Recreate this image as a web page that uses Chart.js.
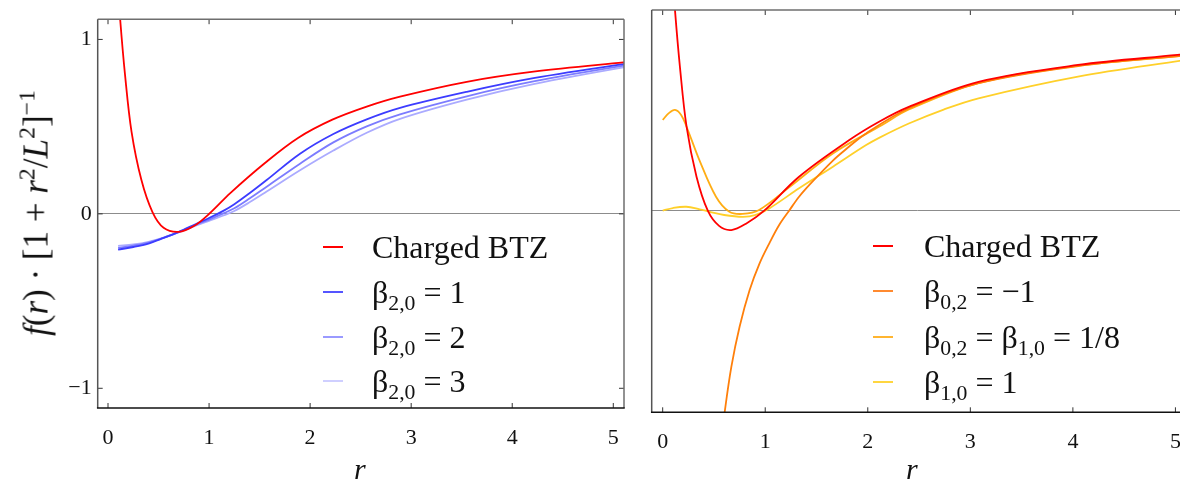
<!DOCTYPE html>
<html>
<head>
<meta charset="utf-8">
<script src="https://cdn.jsdelivr.net/npm/chart.js@4.4.1/dist/chart.umd.min.js"></script>
<style>
  html, body { margin: 0; padding: 0; overflow: hidden; background: #fff; }
  body { width: 1180px; height: 480px; position: relative; font-family: 'Liberation Serif', 'DejaVu Serif', serif; color: #111; }
  .panel { position: absolute; top: 0; height: 480px; }
  #leftPanel { left: 0; width: 640px; }
  #rightPanel { left: 640px; width: 550px; }
  .title { position: absolute; white-space: nowrap; font-size: 30px; line-height: 1; }
  .ytitle { left: 36px; top: 213px; font-size: 35px; transform: translate(-50%, -50%) rotate(-90deg); }
  .title sup { font-size: 0.68em; vertical-align: 0.55em; line-height: 0; }
  .leg { position: absolute; height: 40px; white-space: nowrap; font-size: 32px; }
  .leg .sw { position: absolute; height: 2px; width: 20px; top: 19px; }
  .leg .tx { position: absolute; top: 0; line-height: 40px; }
  .leg sub { font-size: 0.68em; vertical-align: -0.3em; line-height: 0; }
</style>
</head>
<body>
<div class="panel" id="leftPanel"><canvas id="leftChart" width="640" height="480"></canvas></div>
<div class="panel" id="rightPanel"><canvas id="rightChart" width="550" height="480"></canvas></div>

<div class="title ytitle"><i>f</i>(<i>r</i>) · [1 + <i>r</i><sup>2</sup>/<i>L</i><sup>2</sup>]<sup>−1</sup></div>
<div class="title" style="left:354px;top:454px;"><i>r</i></div>
<div class="title" style="left:906px;top:454px;"><i>r</i></div>

<div id="legends"></div>

<script>
// axis ticks
const xTicks = [0, 1, 2, 3, 4, 5];
const yTicksLeft = [-1, 0, 1];
const yTicksRight = [0];

// left panel: charged BTZ
const rBTZ = [0.1, 0.12, 0.168, 0.233, 0.33, 0.44, 0.55, 0.7, 0.85, 1.01, 1.21, 1.55, 1.88, 2.22, 2.56, 2.89, 3.55, 4.21, 5.1, 5.2];
const fBTZ = [1.3, 1.117, 0.8, 0.47, 0.195, 0.01, -0.08, -0.103, -0.07, 0.005, 0.119, 0.29, 0.435, 0.54, 0.615, 0.672, 0.757, 0.815, 0.868, 0.872];

// left panel: beta_{2,0} curves
const rBeta20 = [0.1, 0.25, 0.4, 0.55, 0.7, 0.88, 1.0, 1.15, 1.25, 1.4, 1.57, 1.9, 2.23, 2.56, 2.89, 3.55, 4.21, 5.1, 5.2];
const fBeta20_1 = [-0.205, -0.19, -0.17, -0.138, -0.103, -0.055, -0.024, 0.02, 0.055, 0.118, 0.194, 0.345, 0.458, 0.542, 0.608, 0.70, 0.778, 0.859, 0.863];
const fBeta20_2 = [-0.195, -0.182, -0.165, -0.138, -0.105, -0.06, -0.033, 0.005, 0.032, 0.088, 0.156, 0.288, 0.41, 0.502, 0.571, 0.674, 0.759, 0.849, 0.853];
const fBeta20_3 = [-0.183, -0.175, -0.16, -0.136, -0.105, -0.065, -0.04, -0.008, 0.016, 0.066, 0.128, 0.25, 0.363, 0.465, 0.545, 0.655, 0.744, 0.84, 0.844];

// right panel: charged BTZ
const rBTZ2 = [0.1, 0.12, 0.168, 0.233, 0.33, 0.44, 0.55, 0.67, 0.82, 0.99, 1.33, 1.82, 2.11, 2.4, 3.08, 4.05, 5.02, 5.1];
const fBTZ2 = [1.3, 1.12, 0.805, 0.469, 0.19, 0.0, -0.085, -0.108, -0.07, 0.0, 0.19, 0.395, 0.497, 0.58, 0.72, 0.814, 0.87, 0.874];

// right panel: beta_{0,2} = -1
const rBeta02 = [0.58, 0.605, 0.67, 0.75, 0.848, 0.945, 1.04, 1.136, 1.233, 1.33, 1.46, 1.66, 1.77, 1.98, 2.4, 3.08, 4.05, 5.1];
const fBeta02 = [-1.25, -1.123, -0.871, -0.648, -0.443, -0.294, -0.182, -0.08, 0.0, 0.078, 0.162, 0.28, 0.335, 0.43, 0.572, 0.712, 0.808, 0.868];

// right panel: beta_{0,2} = beta_{1,0} = 1/8
const rBetaMix = [0, 0.06, 0.12, 0.18, 0.233, 0.36, 0.52, 0.65, 0.78, 0.94, 1.24, 1.66, 2.14, 2.4, 3.08, 4.05, 5.1];
const fBetaMix = [0.507, 0.545, 0.563, 0.535, 0.469, 0.28, 0.078, -0.006, -0.018, 0.004, 0.134, 0.32, 0.479, 0.565, 0.713, 0.81, 0.866];

// right panel: beta_{1,0} = 1
const rBeta10 = [0, 0.1, 0.23, 0.36, 0.46, 0.6, 0.78, 0.9, 1.04, 1.33, 1.66, 1.98, 2.11, 2.4, 2.74, 3.08, 4.05, 5.1];
const fBeta10 = [0, 0.015, 0.022, 0.008, -0.006, -0.024, -0.034, -0.025, 0.013, 0.125, 0.246, 0.365, 0.407, 0.487, 0.565, 0.628, 0.749, 0.842];

const leftLabels = ['Charged BTZ', 'β<sub>2,0</sub> = 1', 'β<sub>2,0</sub> = 2', 'β<sub>2,0</sub> = 3'];
const rightLabels = ['Charged BTZ', 'β<sub>0,2</sub> = −1', 'β<sub>0,2</sub> = β<sub>1,0</sub> = 1/8', 'β<sub>1,0</sub> = 1'];

const leftColors = ['#ff0000', '#3c3cff', '#7c7cff', '#ababff'];
const rightColors = ['#ff0000', '#ff7f0a', '#ffad14', '#ffd02a'];
const leftSwatch = ['#ff0000', '#5555ff', '#9a9aff', '#cfcfff'];
const rightSwatch = ['#ff0000', '#ff8a30', '#ffb530', '#ffd640'];

const pts = (xs, ys) => xs.map((x, i) => ({ x: x, y: ys[i] }));

function series(xs, ys, color) {
  return {
    data: pts(xs, ys),
    borderColor: color,
    borderWidth: 1.8,
    pointRadius: 0,
    fill: false,
    tension: 0.35
  };
}

const tickFont = { family: "'Liberation Serif', 'DejaVu Serif', serif", size: 22 };

// frame + inward tick marks
const framePlugin = {
  id: 'frame',
  afterDatasetsDraw(chart, args, opts) {
    const { ctx, chartArea: a, scales } = chart;
    const seg = (x1, y1, x2, y2) => { ctx.beginPath(); ctx.moveTo(x1, y1); ctx.lineTo(x2, y2); ctx.stroke(); };
    ctx.save();
    ctx.strokeStyle = '#333';
    ctx.lineWidth = 1;
    scales.x.ticks.forEach(t => {
      const px = scales.x.getPixelForValue(t.value);
      seg(px, a.bottom, px, a.bottom - 5);
      seg(px, a.top, px, a.top + 5);
    });
    if (opts.yTicks) {
      scales.y.ticks.forEach(t => {
        const py = scales.y.getPixelForValue(t.value);
        seg(a.left, py, a.left + 5, py);
        seg(a.right, py, a.right - 5, py);
      });
    }
    ctx.lineWidth = 1.5;
    ctx.strokeStyle = '#6e6e6e';
    seg(a.left, a.top, a.right, a.top);
    seg(a.right, a.top, a.right, a.bottom);
    ctx.strokeStyle = '#555';
    seg(a.left, a.top, a.left, a.bottom);
    ctx.strokeStyle = '#111';
    seg(a.left - 0.75, a.bottom, a.right + 0.75, a.bottom);
    ctx.restore();
  }
};

function makeChart(id, datasets, cfg) {
  return new Chart(document.getElementById(id), {
    type: 'line',
    data: { datasets: datasets },
    options: {
      responsive: false,
      animation: false,
      layout: { padding: cfg.padding },
      plugins: {
        legend: { display: false },
        tooltip: { enabled: false },
        frame: { yTicks: cfg.showY }
      },
      scales: {
        x: {
          type: 'linear',
          min: cfg.xMin,
          max: cfg.xMax,
          afterBuildTicks: s => { s.ticks = xTicks.map(v => ({ value: v })); },
          afterFit: s => { s.height = cfg.xHeight; },
          grid: { display: false },
          border: { display: false },
          ticks: { font: tickFont, color: '#111', padding: 9, maxRotation: 0, autoSkip: false }
        },
        y: {
          type: 'linear',
          min: cfg.yMin,
          max: cfg.yMax,
          afterBuildTicks: s => { s.ticks = cfg.yTicks.map(v => ({ value: v })); },
          afterFit: s => { s.width = cfg.yWidth; },
          grid: {
            drawTicks: false,
            lineWidth: 1,
            color: c => (c.tick && c.tick.value === 0 ? '#8c8c8c' : 'rgba(0,0,0,0)')
          },
          border: { display: false },
          ticks: {
            display: cfg.showY,
            font: tickFont,
            color: '#111',
            padding: 6,
            callback: v => String(v).replace('-', '\u2212')
          }
        }
      }
    },
    plugins: [framePlugin]
  });
}

makeChart('leftChart', [
  series(rBTZ, fBTZ, leftColors[0]),
  series(rBeta20, fBeta20_1, leftColors[1]),
  series(rBeta20, fBeta20_2, leftColors[2]),
  series(rBeta20, fBeta20_3, leftColors[3])
], {
  xMin: -0.102, xMax: 5.106, yMin: -1.113, yMax: 1.116,
  yTicks: yTicksLeft, showY: true,
  padding: { left: 0, top: 13.5, right: 16, bottom: 0 },
  yWidth: 97.7, xHeight: 72
});

makeChart('rightChart', [
  series(rBTZ2, fBTZ2, rightColors[0]),
  series(rBeta02, fBeta02, rightColors[1]),
  series(rBetaMix, fBetaMix, rightColors[2]),
  series(rBeta10, fBeta10, rightColors[3])
], {
  xMin: -0.107, xMax: 5.07, yMin: -1.126, yMax: 1.121,
  yTicks: yTicksRight, showY: false,
  padding: { left: 0, top: 10, right: 5, bottom: 0 },
  yWidth: 11.7, xHeight: 67.7
});

// legends (inside plot areas, lower right)
function addLegend(labels, colors, swX, txX, rowsY) {
  const box = document.getElementById('legends');
  labels.forEach((lab, i) => {
    const row = document.createElement('div');
    row.className = 'leg';
    row.style.left = swX + 'px';
    row.style.top = (rowsY[i] - 20) + 'px';
    row.innerHTML = '<span class="sw" style="background:' + colors[i] + '"></span>' +
      '<span class="tx" style="left:' + (txX - swX) + 'px">' + lab + '</span>';
    box.appendChild(row);
  });
}
addLegend(leftLabels, leftSwatch, 323, 372, [246.7, 291.7, 336.7, 381]);
addLegend(rightLabels, rightSwatch, 873, 924, [245.7, 291, 336.7, 381.7]);
</script>
</body>
</html>
